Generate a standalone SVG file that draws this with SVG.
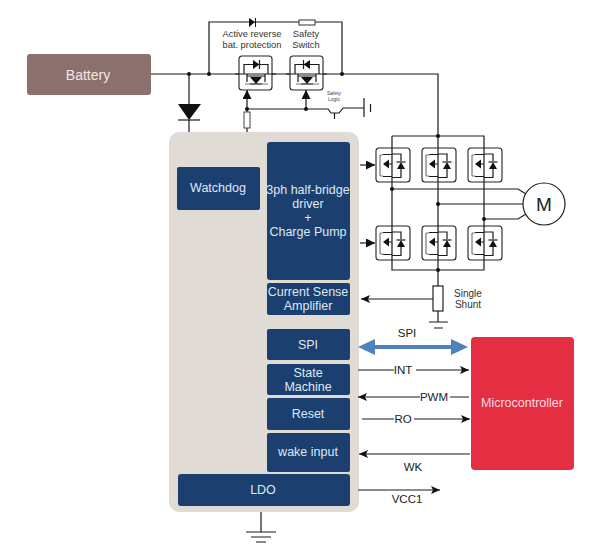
<svg xmlns="http://www.w3.org/2000/svg" width="595" height="552" viewBox="0 0 595 552">
<style>
text{font-family:"Liberation Sans",Arial,sans-serif;text-anchor:middle}
.w{fill:#dfe9f5;font-size:12.5px}
.b{fill:#222;font-size:11.5px}
.s{fill:#333;font-size:9.3px}
.blk{fill:#1b3f6e}
.l{fill:none;stroke:#1a1a1a;stroke-width:1.2}
.g{fill:none;stroke:#777;stroke-width:1.2}
.k{fill:#111;stroke:none}
.dot{fill:#111}
</style>
<defs>
<marker id="a" markerWidth="12" markerHeight="10" refX="9" refY="4" orient="auto" markerUnits="userSpaceOnUse"><path d="M0 0L9 4L0 8L2 4Z" fill="#111"/></marker>
<marker id="A" markerWidth="10" markerHeight="10" refX="9" refY="4.500" orient="auto" markerUnits="userSpaceOnUse"><path d="M0 0L9 4.500L0 9Z" fill="#111"/></marker>
<g id="q1"><rect x="0" y="0" width="34" height="34" rx="3" fill="#fff" stroke="#222" stroke-width="1.1"/>
<path class="g" d="M4 7V28M4 7H7M4 28H7"/>
<path class="l" d="M16 0V34M7 6.500H16M16 6H25V13M7 28.500H16M10 16H16M25 21V29.500H16"/>
<path class="k" d="M7 16L13 11.500V20.500Z"/>
<path class="k" d="M21 21L29 21L25 14Z"/><path class="l" d="M20.500 14H29.500"/></g>
<g id="q2"><rect x="0" y="0" width="33" height="34" rx="3" fill="#fff" stroke="#222" stroke-width="1.1"/>
<path class="l" d="M5 18V8.500H29V18M-4 18H37M8 18V26M26 18V26M8 20H26"/>
<path class="k" d="M20.500 8.500L14 4V13Z"/><path class="l" d="M20.500 4V13"/>
<path class="k" d="M17 28L11 21H23Z"/><path class="g" d="M6 28H11M23 28H29"/><path class="l" d="M11 28H23"/></g>
<g id="q3"><rect x="0" y="0" width="33" height="34" rx="3" fill="#fff" stroke="#222" stroke-width="1.1"/>
<path class="l" d="M5 18V8.500H29V18M-4 18H37M8 18V26M26 18V26M8 20H26"/>
<path class="k" d="M13.500 8.500L20 4V13Z"/><path class="l" d="M13.500 4V13"/>
<path class="k" d="M17 28L11 21H23Z"/><path class="g" d="M6 28H11M23 28H29"/><path class="l" d="M11 28H23"/></g>
</defs>

<g id="body"><rect x="169" y="132" width="190" height="380" rx="10" fill="#e1dbd6"/></g>

<g id="connectors">
<path class="l" d="M151 74H438V136M209 74V22H342V74M392 136H484V270H392V136M438 136V286M438 311V322"/>
<path class="l" d="M189 74V104M189 120V132"/>
<path class="l" d="M247 132V128M247 112V90" marker-end="url(#A)"/>
<path class="l" d="M306 109V90" marker-end="url(#A)"/>
<path class="l" d="M247 109H328L331 113H339L343 108H364M334.500 113V119"/>
<path class="l" d="M364 98V117M370.500 104V112"/>
<path class="l" d="M392 189H518L526 194M438 204H523M484 219H518L526 214"/>
<path class="l" d="M360 165H375" marker-end="url(#A)"/>
<path class="l" d="M360 243H375" marker-end="url(#A)"/>
<path class="l" d="M433 299H361" marker-end="url(#a)"/>
<path class="l" d="M429 322H448M434 328H443"/>
<path d="M362 347H464" fill="none" stroke="#4f81bd" stroke-width="4"/>
<path d="M358 347L375 339V355ZM468 347L451 339V355Z" fill="#4f81bd"/>
<path class="l" d="M358 370H394M416 370H469" marker-end="url(#a)"/>
<path class="l" d="M469 397H450M420 397H358" marker-end="url(#a)"/>
<path class="l" d="M362 419H394M414 419H470" marker-end="url(#a)"/>
<path class="l" d="M470 454H359" marker-end="url(#a)"/>
<path class="l" d="M358 490H440" marker-end="url(#a)"/>
<path class="l" d="M261 512V532M246 532H276M251 537H271M256 542H266"/>
</g>

<g id="battery"><rect x="27" y="54" width="124" height="41" rx="3" fill="#8b706d"/><text x="88" y="80" style="font-size:14px;fill:#f0e8e6">Battery</text></g>
<g id="main-diode"><path class="k" d="M178 104H201L189 120Z"/><path class="l" d="M178 120H200"/></g>
<g id="top-diode"><path class="k" d="M249 18L255 22L249 27ZM255 18H256V27H255Z"/></g>
<g id="top-resistor"><rect x="299" y="20" width="16" height="5" fill="#fff" stroke="#333"/></g>
<g id="shunt-resistor"><rect x="433" y="286" width="10" height="25" fill="#fff" stroke="#222" stroke-width="1.2"/></g>
<g id="gate-resistor"><rect x="244" y="112" width="6" height="16" fill="#fff" stroke="#444"/></g>

<g id="q-reverse"><use href="#q2" x="239" y="56"/></g>
<g id="q-safety"><use href="#q3" x="290" y="56"/></g>
<g id="q-hs1"><use href="#q1" x="376" y="148"/></g>
<g id="q-hs2"><use href="#q1" x="422" y="148"/></g>
<g id="q-hs3"><use href="#q1" x="468" y="148"/></g>
<g id="q-ls1"><use href="#q1" x="376" y="226"/></g>
<g id="q-ls2"><use href="#q1" x="422" y="226"/></g>
<g id="q-ls3"><use href="#q1" x="468" y="226"/></g>
<g id="motor"><circle cx="544" cy="204" r="21" fill="#fff" stroke="#222" stroke-width="1.2"/><text x="544" y="211" style="font-size:19px;fill:#222">M</text></g>

<g id="dots">
<circle class="dot" cx="189" cy="74" r="2"/><circle class="dot" cx="209" cy="74" r="2"/><circle class="dot" cx="342" cy="74" r="2"/>
<circle class="dot" cx="247" cy="109" r="2"/><circle class="dot" cx="306" cy="109" r="2"/>
<circle class="dot" cx="438" cy="136" r="2"/><circle class="dot" cx="392" cy="189" r="2"/><circle class="dot" cx="438" cy="204" r="2"/><circle class="dot" cx="484" cy="219" r="2"/><circle class="dot" cx="438" cy="270" r="2"/>
</g>

<g id="watchdog"><rect class="blk" x="177" y="167" width="83" height="43" rx="2"/><text x="218" y="192" class="w">Watchdog</text></g>
<g id="driver"><rect class="blk" x="267" y="142" width="83" height="138" rx="3"/><text x="308" y="194" class="w">3ph half-bridge</text><text x="308" y="208" class="w">driver</text><text x="308" y="222" class="w">+</text><text x="308" y="236" class="w">Charge Pump</text></g>
<g id="csa"><rect class="blk" x="267" y="283" width="83" height="32" rx="2"/><text x="308" y="296" class="w">Current Sense</text><text x="308" y="310" class="w">Amplifier</text></g>
<g id="spi"><rect class="blk" x="267" y="329" width="83" height="31" rx="2"/><text x="308" y="349" class="w">SPI</text></g>
<g id="state"><rect class="blk" x="267" y="364" width="83" height="31" rx="2"/><text x="308" y="377" class="w">State</text><text x="308" y="391" class="w">Machine</text></g>
<g id="reset"><rect class="blk" x="267" y="398" width="83" height="32" rx="2"/><text x="308" y="418" class="w">Reset</text></g>
<g id="wake"><rect class="blk" x="267" y="433" width="83" height="39" rx="2"/><text x="308" y="456" class="w">wake input</text></g>
<g id="ldo"><rect class="blk" x="178" y="474" width="172" height="32" rx="3"/><text x="263" y="494" class="w">LDO</text></g>
<g id="mcu"><rect x="471" y="337" width="103" height="133" rx="4" fill="#e52e41"/><text x="522" y="407" class="w" style="fill:#fbdde0">Microcontroller</text></g>

<g id="labels">
<text x="252" y="37" class="s">Active reverse</text><text x="252" y="48" class="s">bat. protection</text>
<text x="306" y="37" class="s">Safety</text><text x="306" y="48" class="s">Switch</text>
<text x="334" y="95" style="font-size:5px;fill:#444">Safety</text><text x="334" y="101" style="font-size:5px;fill:#444">Logic</text>
<text x="468" y="297" class="s" style="font-size:10px">Single</text><text x="468" y="308" class="s" style="font-size:10px">Shunt</text>
<text x="407" y="337" class="b">SPI</text>
<text x="403" y="374" class="b">INT</text>
<text x="434" y="401" class="b">PWM</text>
<text x="403" y="423" class="b">RO</text>
<text x="413" y="471" class="b">WK</text>
<text x="407" y="503" class="b">VCC1</text>
</g>
</svg>
